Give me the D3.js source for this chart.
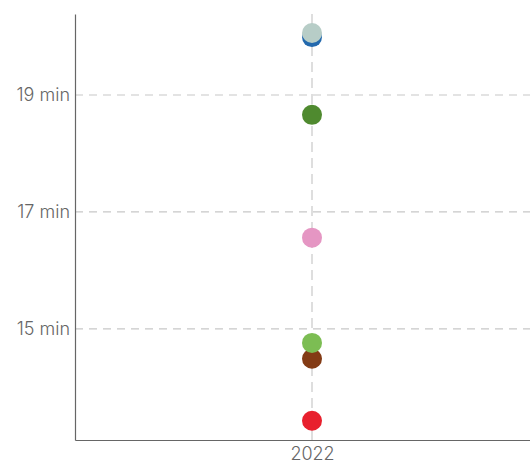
<!DOCTYPE html>
<html><head><meta charset="utf-8">
<script src="https://cdn.jsdelivr.net/npm/d3@7/dist/d3.min.js"></script>
<style>body{margin:0;background:#fff}svg{display:block}</style>
</head><body>
<svg id="c" width="530" height="464"></svg>
<script>
const years = ["2022"];
const seriesNames = ["Blue", "Grey", "Dark green", "Pink", "Brown", "Light green", "Red"];
const seriesValues = [19.99, 20.06, 18.66, 16.56, 14.49, 14.76, 13.43];
const seriesColors = ["#2369ad", "#b7cdc7", "#4f8a2f", "#e596c3", "#833b15", "#7cbd53", "#e8202d"];
const yTicks = [15, 17, 19];
const yTickLabels = ["15 min", "17 min", "19 min"];

const svg = d3.select("#c");
const m = {left: 75, top: 14, bottom: 440, right: 549};
const x = d3.scalePoint().domain(years).range([m.left, m.right]).padding(0.5);
const y = d3.scaleLinear().domain([13.1, 20.385]).range([m.bottom, m.top]);
const font = "Inter, 'Noto Sans', sans-serif";

svg.append("g").selectAll("line").data(yTicks).join("line")
  .attr("x1", m.left).attr("x2", 530)
  .attr("y1", d => y(d)).attr("y2", d => y(d))
  .attr("stroke", "#c8c8c8").attr("stroke-width", 1.2).attr("stroke-dasharray", "8,6");
svg.append("g").selectAll("line").data(years).join("line")
  .attr("x1", d => x(d)).attr("x2", d => x(d))
  .attr("y1", m.top).attr("y2", m.bottom)
  .attr("stroke", "#c8c8c8").attr("stroke-width", 1.2).attr("stroke-dasharray", "10,6");

const yAxis = d3.axisLeft(y).tickValues(yTicks).tickFormat((d, i) => yTickLabels[i]).tickSize(0).tickPadding(5);
const gy = svg.append("g").attr("transform", `translate(${m.left},0)`).call(yAxis);
gy.select(".domain").attr("stroke", "#666").attr("stroke-width", 1.2);
gy.selectAll("text").attr("fill", "#666").style("font-family", font).style("font-size", "18px").style("font-weight", 300);

const xAxis = d3.axisBottom(x).tickSize(0).tickPadding(7);
const gx = svg.append("g").attr("transform", `translate(0,${m.bottom})`).call(xAxis);
gx.select(".domain").attr("stroke", "#666").attr("stroke-width", 1.2);
gx.selectAll("text").attr("fill", "#666").style("font-family", font).style("font-size", "18px").style("font-weight", 300);

svg.append("g").selectAll("circle").data(seriesValues).join("circle")
  .attr("cx", x("2022")).attr("cy", d => y(d)).attr("r", 10)
  .attr("fill", (d, i) => seriesColors[i]);
</script>
</body></html>
